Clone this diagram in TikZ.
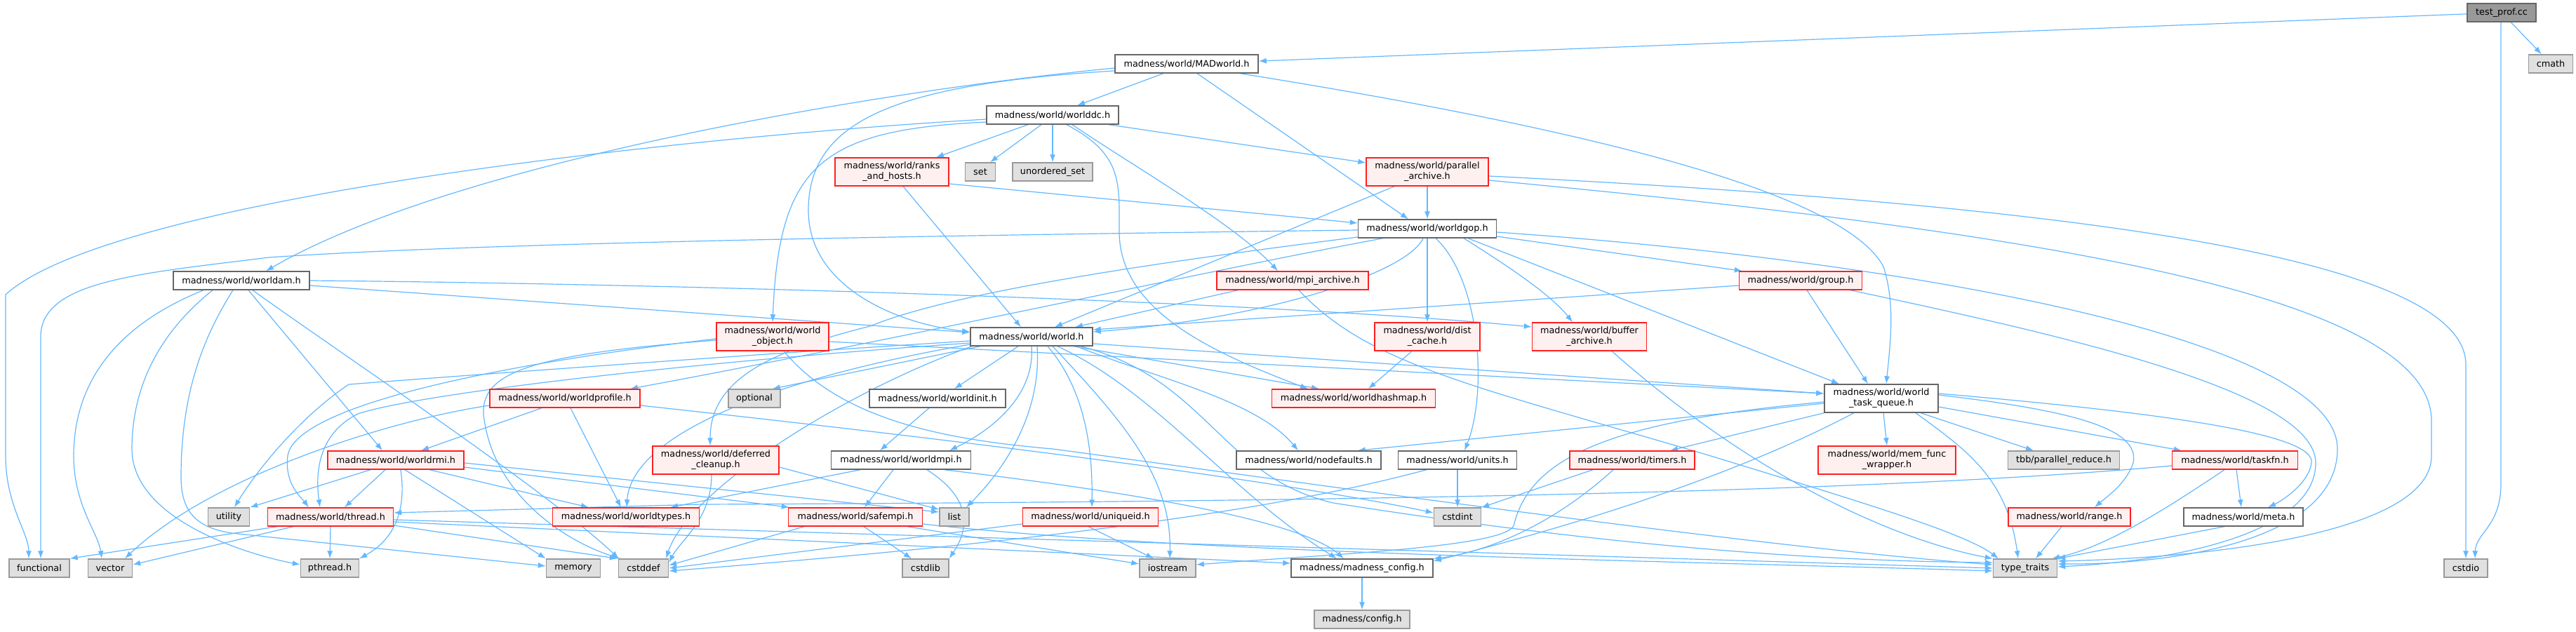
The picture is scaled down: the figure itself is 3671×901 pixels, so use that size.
\documentclass[tikz,border=0pt]{standalone}
\usepackage{fontspec}
\newfontfamily\dvs{DejaVu Sans}
\usetikzlibrary{arrows.meta,calc}
\definecolor{ecol}{HTML}{63B8FF}
\definecolor{redb}{HTML}{FF2020}
\definecolor{redf}{HTML}{FFF0F0}
\definecolor{grayf}{HTML}{E0E0E0}
\definecolor{grayb}{HTML}{999999}
\definecolor{whb}{HTML}{666666}
\definecolor{rootf}{HTML}{999999}
\pgfdeclarelayer{back}
\pgfdeclarelayer{bg}
\pgfsetlayers{back,bg,main}
\newcommand\nf{\fontsize{12.8pt}{15pt}\selectfont}
\tikzset{
  base/.style={line width=1.4pt, font=\dvs\nf, text=black, inner sep=0pt, minimum height=26pt, align=center},
  wbox/.style={base, fill=white, draw=whb},
  rbox/.style={base, fill=redf, draw=redb},
  gbox/.style={base, fill=grayf, draw=grayb},
  tbox/.style={base, fill=rootf, draw=whb},
  two/.style={minimum height=40pt},
  ln/.style={draw=ecol, line width=1.2pt, -{Latex[length=11pt,width=8pt]}},
}
\begin{document}
\begin{tikzpicture}[x=1pt,y=-1pt]
\begin{pgfonlayer}{back}
\fill[white] (0,0) rectangle (3671,901);
\end{pgfonlayer}
\useasboundingbox (0,0) rectangle (3671,901);
% nodes
\node[tbox, minimum width=98pt] (root) at (3565,18) {test\_prof.cc};
\node[gbox, minimum width=63pt] (cmath) at (3635,91) {cmath};
\node[wbox, minimum width=204pt] (madw) at (1691,91) {madness/world/MADworld.h};
\node[wbox, minimum width=188pt] (wdc) at (1500,164) {madness/world/worlddc.h};
\node[rbox, two, minimum width=162pt] (ranks) at (1271,245) {madness/world/ranks\\\_and\_hosts.h};
\node[gbox, minimum width=43pt] (set) at (1397,245) {set};
\node[gbox, minimum width=114pt] (uset) at (1500,245) {unordered\_set};
\node[rbox, two, minimum width=174pt] (parar) at (2034,245) {madness/world/parallel\\\_archive.h};
\node[wbox, minimum width=197pt] (gop) at (2034,326) {madness/world/worldgop.h};
\node[wbox, minimum width=194pt] (wam) at (344,400) {madness/world/worldam.h};
\node[rbox, minimum width=216pt] (mpiar) at (1842,400) {madness/world/mpi\_archive.h};
\node[rbox, minimum width=175pt] (group) at (2566,400) {madness/world/group.h};
\node[rbox, two, minimum width=160pt] (wobj) at (1101,480) {madness/world/world\\\_object.h};
\node[wbox, minimum width=174pt] (world) at (1470,480) {madness/world/world.h};
\node[rbox, two, minimum width=150pt] (dcache) at (2034,480) {madness/world/dist\\\_cache.h};
\node[rbox, two, minimum width=163pt] (bufar) at (2265,480) {madness/world/buffer\\\_archive.h};
\node[rbox, minimum width=214pt] (wprof) at (805,568) {madness/world/worldprofile.h};
\node[gbox, minimum width=74pt] (optional) at (1075,568) {optional};
\node[wbox, minimum width=194pt] (winit) at (1336,568) {madness/world/worldinit.h};
\node[rbox, minimum width=233pt] (whash) at (1929,568) {madness/world/worldhashmap.h};
\node[wbox, two, minimum width=162pt] (wtq) at (2681,568) {madness/world/world\\\_task\_queue.h};
\node[rbox, minimum width=194pt] (wrmi) at (564,656) {madness/world/worldrmi.h};
\node[rbox, two, minimum width=180pt] (defcl) at (1020,656) {madness/world/deferred\\\_cleanup.h};
\node[wbox, minimum width=199pt] (wmpi) at (1284,656) {madness/world/worldmpi.h};
\node[wbox, minimum width=206pt] (nodef) at (1865,656) {madness/world/nodefaults.h};
\node[wbox, minimum width=169pt] (units) at (2077,656) {madness/world/units.h};
\node[rbox, minimum width=178pt] (timers) at (2326,656) {madness/world/timers.h};
\node[rbox, two, minimum width=196pt] (memfw) at (2689,656) {madness/world/mem\_func\\\_wrapper.h};
\node[gbox, minimum width=159pt] (tbb) at (2941,656) {tbb/parallel\_reduce.h};
\node[rbox, minimum width=179pt] (taskfn) at (3185,656) {madness/world/taskfn.h};
\node[gbox, minimum width=59pt] (utility) at (326,737) {utility};
\node[rbox, minimum width=179pt] (thread) at (471,737) {madness/world/thread.h};
\node[rbox, minimum width=209pt] (wtypes) at (892,737) {madness/world/worldtypes.h};
\node[rbox, minimum width=191pt] (safempi) at (1219,737) {madness/world/safempi.h};
\node[gbox, minimum width=42pt] (list) at (1360,737) {list};
\node[rbox, minimum width=193pt] (uniq) at (1554,737) {madness/world/uniqueid.h};
\node[gbox, minimum width=67pt] (cstdint) at (2077,737) {cstdint};
\node[rbox, minimum width=174pt] (range) at (2949,737) {madness/world/range.h};
\node[wbox, minimum width=170pt] (meta) at (3197,737) {madness/world/meta.h};
\node[gbox, minimum width=86pt] (functional) at (56,810) {functional};
\node[gbox, minimum width=63pt] (vector) at (157,810) {vector};
\node[gbox, minimum width=83pt] (pthread) at (470,810) {pthread.h};
\node[gbox, minimum width=77pt] (memory) at (817,810) {memory};
\node[gbox, minimum width=71pt] (cstddef) at (917,810) {cstddef};
\node[gbox, minimum width=66pt] (cstdlib) at (1319,810) {cstdlib};
\node[gbox, minimum width=80pt] (iostream) at (1664,810) {iostream};
\node[wbox, minimum width=202pt] (mconf) at (1941,810) {madness/madness\_config.h};
\node[gbox, minimum width=91pt] (ttraits) at (2886,810) {type\_traits};
\node[gbox, minimum width=62pt] (cstdio) at (3514,810) {cstdio};
\node[gbox, minimum width=136pt] (config) at (1941,883) {madness/config.h};

\begin{pgfonlayer}{bg}
% root
\draw[ln] (root) -- (madw);
\draw[ln] (root) -- (cmath);
\draw[ln] ($(root.south)+(-1,0)$) -- (3564,690) .. controls (3564,750) and (3528,760) .. ($(cstdio.north)+(13,0)$);
% MADworld
\draw[ln] ($(madw.west)+(0,6)$) .. controls (1250,130) and (650,230) .. ($(wam.north)+(35,0)$);
\draw[ln] ($(madw.west)+(0,10)$) .. controls (1280,120) and (1152,170) .. (1152,300) .. controls (1152,410) and (1280,462) .. ($(world.west)+(0,-7)$);
\draw[ln] ($(madw.south)+(-33,0)$) -- ($(wdc.north)+(35,0)$);
\draw[ln] ($(madw.south)+(15,0)$) -- ($(gop.north)+(-27,0)$);
\draw[ln] ($(madw.south)+(76,0)$) .. controls (2300,190) and (2630,280) .. (2684,380) .. controls (2700,430) and (2695,480) .. ($(wtq.north)+(7,0)$);
% worlddc
\draw[ln] ($(wdc.west)+(0,6)$) .. controls (900,200) and (150,290) .. (8,420) -- (8,650) .. controls (8,720) and (41,760) .. ($(functional.north)+(-15,0)$);
\draw[ln] ($(wdc.west)+(0,10)$) .. controls (1170,185) and (1110,235) .. (wobj.north);
\draw[ln] ($(wdc.south)+(-35,0)$) -- ($(ranks.north)+(63,0)$);
\draw[ln] ($(wdc.south)+(-16,0)$) -- ($(set.north)+(14,0)$);
\draw[ln] (wdc.south) -- (uset.north);
\draw[ln] ($(wdc.south)+(20,0)$) .. controls (1600,220) and (1595,260) .. (1595,330) .. controls (1595,440) and (1720,500) .. ($(whash.north)+(-65,0)$);
\draw[ln] ($(wdc.south)+(28,0)$) .. controls (1620,240) and (1760,320) .. ($(mpiar.north)+(-21,0)$);
\draw[ln] ($(wdc.south)+(80,0)$) -- ($(parar.west)+(0,-13)$);
% ranks
\draw[ln] ($(ranks.south)+(16,0)$) -- ($(world.north)+(-15,0)$);
\draw[ln] ($(ranks.east)+(0,17)$) -- ($(gop.west)+(0,-8)$);
% parallel_archive
\draw[ln] (parar.south) -- (gop.north);
\draw[ln] ($(parar.south)+(-47,0)$) -- ($(world.north)+(33,0)$);
\draw[ln] ($(parar.east)+(0,6)$) .. controls (2900,290) and (3514,360) .. (3514,520) -- (cstdio.north);
\draw[ln] ($(parar.east)+(0,12)$) .. controls (2900,330) and (3465,420) .. (3465,600) -- (3465,650) .. controls (3465,760) and (3150,795) .. ($(ttraits.east)+(0,-10)$);
% worldgop
\draw[ln] ($(gop.west)+(0,2)$) .. controls (1400,335) and (700,345) .. (383,367) .. controls (200,390) and (58,400) .. (58,480) -- ($(functional.north)+(2,0)$);
\draw[ln] ($(gop.west)+(0,12)$) .. controls (1600,380) and (1350,420) .. (1240,465) .. controls (1100,500) and (1012,540) .. ($(defcl.north)+(-8,0)$);
\draw[ln] ($(gop.south)+(-63,0)$) .. controls (1700,390) and (1300,480) .. ($(wprof.north)+(93,0)$);
\draw[ln] ($(gop.south)+(-6,0)$) .. controls (2005,390) and (1800,455) .. ($(world.east)+(0,-7)$);
\draw[ln] (gop.south) -- (dcache.north);
\draw[ln] ($(gop.south)+(12,0)$) .. controls (2110,400) and (2120,560) .. ($(units.north)+(10,0)$);
\draw[ln] ($(gop.south)+(52,0)$) .. controls (2150,380) and (2210,420) .. ($(bufar.north)+(-24,0)$);
\draw[ln] ($(gop.south)+(58,0)$) -- ($(wtq.north)+(-60,0)$);
\draw[ln] ($(gop.east)+(0,11)$) -- ($(group.north west)+(5,0)$);
\draw[ln] ($(gop.east)+(0,5)$) .. controls (2700,370) and (3331,480) .. (3331,640) .. controls (3331,770) and (3100,805) .. ($(ttraits.east)+(0,-6)$);
% group
\draw[ln] ($(group.west)+(0,7)$) -- ($(world.east)+(0,-10)$);
\draw[ln] ($(group.south)+(9,0)$) -- ($(wtq.north)+(-19,0)$);
\draw[ln] ($(group.south)+(71,0)$) .. controls (2950,480) and (3300,560) .. (3300,660) .. controls (3300,760) and (3100,800) .. ($(ttraits.east)+(0,-2)$);
% worldam
\draw[ln] ($(wam.south)+(-54,0)$) .. controls (150,470) and (105,560) .. (105,650) .. controls (105,720) and (140,760) .. ($(vector.north)+(-12,0)$);
\draw[ln] ($(wam.south)+(-41,0)$) .. controls (220,480) and (188,560) .. (188,640) .. controls (188,740) and (350,790) .. ($(pthread.west)+(0,-5)$);
\draw[ln] ($(wam.south)+(-12,0)$) .. controls (290,480) and (258,560) .. (258,680) .. controls (258,730) and (280,752) .. (330,760) -- ($(memory.west)+(0,-3)$);
\draw[ln] ($(wam.south)+(10,0)$) -- ($(wrmi.north)+(-19,0)$);
\draw[ln] ($(wam.south)+(16,0)$) .. controls (480,500) and (780,700) .. ($(cstddef.north west)+(1,0)$);
\draw[ln] ($(wam.east)+(0,7)$) -- ($(world.west)+(0,-6)$);
\draw[ln] ($(wam.east)+(0,0)$) .. controls (1000,405) and (1800,430) .. ($(bufar.west)+(0,-14)$);
% world_object
\draw[ln] ($(wobj.east)+(0,7)$) -- ($(wtq.west)+(0,-7)$);
\draw[ln] ($(wobj.west)+(0,3)$) .. controls (700,520) and (420,580) .. (410,650) .. controls (405,690) and (430,710) .. ($(thread.north)+(-31,0)$);
\draw[ln] ($(wobj.west)+(0,5)$) .. controls (760,505) and (686,530) .. (689,590) .. controls (700,700) and (800,770) .. ($(cstddef.north west)+(3,0)$);
\draw[ln] ($(wobj.south)+(16,0)$) .. controls (1200,600) and (1350,627) .. (1500,640) .. controls (1800,680) and (2500,780) .. ($(ttraits.west)+(0,-5)$);
% world
\draw[ln] ($(world.west)+(0,6)$) .. controls (1000,510) and (600,540) .. (497,548) .. controls (420,600) and (360,680) .. ($(utility.north)+(8,0)$);
\draw[ln] ($(world.west)+(0,9)$) .. controls (1000,515) and (600,560) .. (510,590) .. controls (450,620) and (450,680) .. ($(thread.north)+(-15,0)$);
\draw[ln] ($(world.west)+(0,11)$) .. controls (1100,540) and (900,620) .. ($(wtypes.north)+(1,0)$);
\draw[ln] ($(world.south)+(-73,0)$) -- ($(optional.north east)+(-12,0)$);
\draw[ln] ($(world.south)+(-19,0)$) -- ($(winit.north)+(24,0)$);
\draw[ln] (world.south) .. controls (1475,560) and (1420,610) .. ($(wmpi.north)+(69,0)$);
\draw[ln] ($(world.south)+(8,0)$) .. controls (1485,600) and (1420,680) .. ($(list.north)+(17,0)$);
\draw[ln] ($(world.south)+(23,0)$) .. controls (1550,560) and (1557,650) .. ($(uniq.north)+(2,0)$);
\draw[ln] ($(world.south)+(30,0)$) .. controls (1600,600) and (1670,680) .. ($(iostream.north)+(3,0)$);
\draw[ln] ($(world.south)+(37,0)$) .. controls (1650,560) and (1750,700) .. ($(mconf.north)+(-36,0)$);
\draw[ln] ($(world.south)+(60,0)$) -- ($(whash.north)+(-49,0)$);
\draw[ln] ($(world.south)+(64,0)$) .. controls (1650,540) and (1790,570) .. ($(nodef.north)+(-15,0)$);
\draw[ln] ($(world.south)+(70,0)$) .. controls (1720,540) and (1740,680) .. (1900,717) .. controls (2300,780) and (2600,800) .. ($(ttraits.west)+(0,-8)$);
\draw[ln] ($(world.south)+(-85,0)$) .. controls (1200,560) and (980,700) .. ($(cstddef.north east)+(-4,0)$);
\draw[ln] ($(world.east)+(0,10)$) -- ($(wtq.west)+(0,-7)$);
% dist_cache, buffer_archive, mpi_archive
\draw[ln] ($(dcache.south)+(-22,0)$) -- ($(whash.north)+(21,0)$);
\draw[ln] ($(bufar.south)+(32,0)$) .. controls (2500,680) and (2700,770) .. (ttraits.north west);
\draw[ln] ($(mpiar.south)+(-78,0)$) -- ($(world.north)+(62,0)$);
\draw[ln] ($(mpiar.south)+(9,0)$) .. controls (1950,520) and (2100,550) .. (2438,650) .. controls (2650,715) and (2800,760) .. ($(ttraits.north)+(-38,0)$);
% worldprofile
\draw[ln] ($(wprof.south)+(-33,0)$) -- ($(wrmi.north)+(36,0)$);
\draw[ln] ($(wprof.south)+(8,0)$) -- ($(wtypes.north)+(-7,0)$);
\draw[ln] ($(wprof.west)+(0,10)$) .. controls (550,600) and (300,680) .. ($(vector.north)+(21,0)$);
\draw[ln] ($(wprof.east)+(0,10)$) .. controls (1300,620) and (1800,680) .. ($(cstdint.west)+(0,-6)$);
% worldinit
\draw[ln] ($(winit.south)+(-12,0)$) -- ($(wmpi.north)+(-30,0)$);
% worldrmi
\draw[ln] ($(wrmi.south)+(-36,0)$) -- (utility.north east);
\draw[ln] ($(wrmi.south)+(-15,0)$) -- ($(thread.north)+(20,0)$);
\draw[ln] ($(wrmi.south)+(7,0)$) .. controls (580,730) and (560,770) .. (pthread.north east);
\draw[ln] ($(wrmi.south)+(13,0)$) -- (memory.north west);
\draw[ln] ($(wrmi.south)+(48,0)$) -- ($(wtypes.north)+(-53,0)$);
\draw[ln] ($(wrmi.east)+(0,10)$) -- ($(safempi.north west)+(2,0)$);
\draw[ln] ($(wrmi.east)+(0,4)$) -- ($(list.west)+(0,-7)$);
% thread
\draw[ln] ($(thread.south)+(-76,0)$) -- (functional.north east);
\draw[ln] ($(thread.south)+(-53,0)$) -- ($(vector.east)+(0,-5)$);
\draw[ln] (thread.south) -- (pthread.north);
\draw[ln] ($(thread.east)+(0,12)$) -- ($(cstddef.north west)+(-1,0)$);
\draw[ln] ($(thread.east)+(0,4)$) -- (ttraits.west);
\draw[ln] ($(thread.east)+(0,7)$) -- ($(mconf.west)+(0,-7)$);
% deferred_cleanup
\draw[ln] ($(defcl.south)+(-6,0)$) .. controls (1014,740) and (970,770) .. ($(cstddef.east)+(0,-8)$);
\draw[ln] ($(defcl.east)+(0,10)$) -- ($(list.north west)+(0,3)$);
% worldmpi
\draw[ln] ($(wmpi.south)+(-58,0)$) -- ($(wtypes.north)+(63,0)$);
\draw[ln] ($(wmpi.south)+(-11,0)$) -- ($(safempi.north)+(13,0)$);
\draw[ln] ($(wmpi.south)+(37,0)$) .. controls (1400,720) and (1370,770) .. (cstdlib.north east);
\draw[ln] ($(wmpi.south)+(62,0)$) .. controls (1600,700) and (1850,740) .. ($(mconf.north)+(-26,0)$);
% safempi
\draw[ln] ($(safempi.south)+(-73,0)$) -- ($(cstddef.east)+(0,-4)$);
\draw[ln] ($(safempi.south)+(12,0)$) -- ($(cstdlib.north)+(-20,0)$);
\draw[ln] ($(safempi.south)+(74,0)$) -- ($(iostream.west)+(0,-6)$);
\draw[ln] ($(safempi.east)+(0,10)$) .. controls (1700,790) and (2400,800) .. ($(ttraits.west)+(0,4)$);
% uniqueid
\draw[ln] ($(uniq.west)+(0,10)$) -- ($(cstddef.east)+(0,0)$);
\draw[ln] ($(uniq.south)+(-3,0)$) -- ($(iostream.north)+(-20,0)$);
% units, timers
\draw[ln] (units.south) -- (cstdint.north);
\draw[ln] ($(units.south)+(-44,0)$) .. controls (1900,705) and (1650,760) .. ($(cstddef.east)+(0,4)$);
\draw[ln] ($(timers.south)+(-56,0)$) -- (cstdint.north east);
\draw[ln] ($(timers.south)+(-27,0)$) .. controls (2200,760) and (2100,790) .. (mconf.north east);
% world_task_queue
\draw[ln] ($(wtq.west)+(0,7)$) -- ($(nodef.north east)+(-34,0)$);
\draw[ln] ($(wtq.south)+(-39,0)$) .. controls (2450,690) and (2200,760) .. ($(mconf.east)+(0,-10)$);
\draw[ln] ($(wtq.west)+(0,5)$) .. controls (2300,600) and (2180,650) .. (2157,750) .. controls (2140,780) and (1900,790) .. ($(iostream.east)+(0,-5)$);
\draw[ln] (wtq.south west) -- ($(timers.north)+(54,0)$);
\draw[ln] ($(wtq.south)+(3,0)$) -- (memfw.north);
\draw[ln] ($(wtq.south)+(56,0)$) -- ($(tbb.north)+(-43,0)$);
\draw[ln] ($(wtq.east)+(0,12)$) -- ($(taskfn.north west)+(14,0)$);
\draw[ln] ($(wtq.east)+(0,-5)$) .. controls (2950,585) and (3050,610) .. (3040,660) .. controls (3030,690) and (3000,710) .. ($(range.north)+(36,0)$);
\draw[ln] ($(wtq.east)+(0,-7)$) .. controls (3100,590) and (3300,620) .. (3294,660) .. controls (3290,690) and (3250,715) .. ($(meta.north)+(35,0)$);
\draw[ln] ($(wtq.south)+(49,0)$) .. controls (2800,640) and (2860,680) .. ($(ttraits.north)+(-10,0)$);
% taskfn, range, meta, config
\draw[ln] ($(taskfn.west)+(0,8)$) .. controls (2700,700) and (2000,715) .. (1000,719) -- ($(thread.east)+(0,-6)$);
\draw[ln] ($(taskfn.south)+(2,0)$) -- ($(meta.north)+(-3,0)$);
\draw[ln] ($(taskfn.south)+(-15,0)$) .. controls (3080,730) and (3000,780) .. ($(ttraits.north east)+(-8,0)$);
\draw[ln] ($(range.south)+(-11,0)$) -- ($(ttraits.north)+(15,0)$);
\draw[ln] ($(meta.south)+(-27,0)$) -- (ttraits.north east);
\draw[ln] (mconf) -- (config);
\end{pgfonlayer}
\end{tikzpicture}
\end{document}
